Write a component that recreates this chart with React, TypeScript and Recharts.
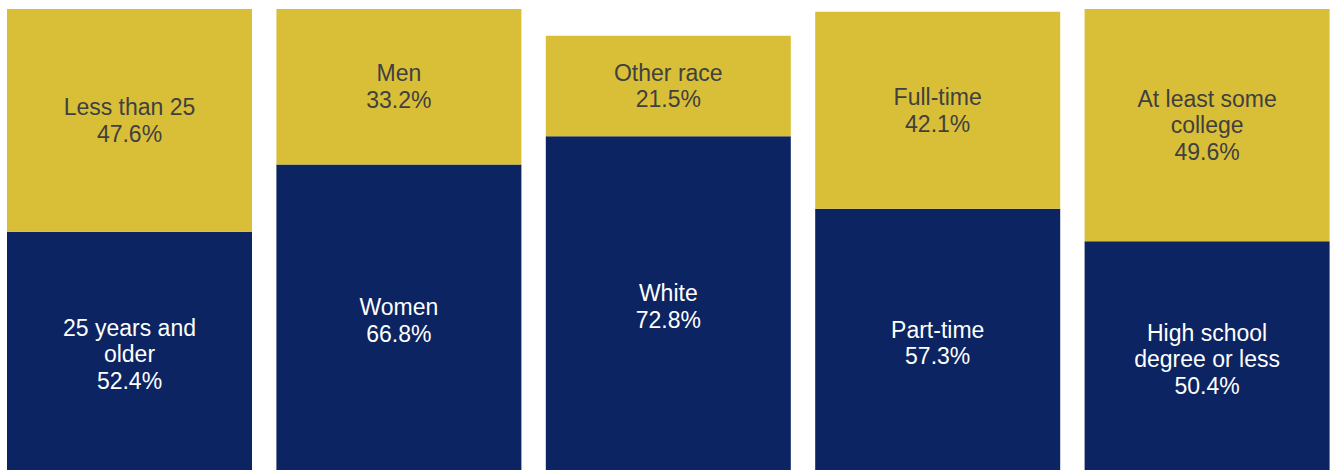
import { BarChart, Bar, XAxis, YAxis, LabelList } from "recharts";

const categories = ["Age", "Gender", "Race", "Enrollment", "Education"];
const bottomValues = [52.4, 66.8, 72.8, 57.3, 50.4];
const topValues = [47.6, 33.2, 21.5, 42.1, 49.6];
const bottomLabels = [
  ["25 years and", "older"],
  ["Women"],
  ["White"],
  ["Part-time"],
  ["High school", "degree or less"],
];
const topLabels = [
  ["Less than 25"],
  ["Men"],
  ["Other race"],
  ["Full-time"],
  ["At least some", "college"],
];

const data = categories.map((c, i) => ({
  name: c,
  bottom: bottomValues[i],
  top: topValues[i],
}));

const NAVY = "#0C2461";
const GOLD = "#D9BF37";
const FONT = 23;
const LINE = 26.5;

function makeLabel(labels: string[][], values: number[], color: string) {
  return (props: any) => {
    const { x, y, width, height, index } = props;
    const lines = [...labels[index], `${values[index].toFixed(1)}%`];
    const cx = Number(x) + Number(width) / 2;
    const cy = Number(y) + Number(height) / 2;
    const n = lines.length;
    return (
      <text
        textAnchor="middle"
        fill={color}
        fontSize={FONT}
        fontFamily="'Liberation Sans', Arial, sans-serif"
      >
        {lines.map((l, i) => (
          <tspan key={i} x={cx} y={cy + (i - (n - 1) / 2) * LINE + FONT * 0.35}>
            {l}
          </tspan>
        ))}
      </text>
    );
  };
}

export default function App() {
  return (
    <div
      style={{
        position: "absolute",
        left: 0,
        top: 0,
        width: 1330,
        height: 470,
        overflow: "hidden",
        background: "#fff",
      }}
    >
      <div style={{ marginLeft: -5 }}>
        <BarChart
          width={1347}
          height={477}
          data={data}
          margin={{ top: 9, right: 0, bottom: 0, left: 0 }}
          barSize={245}
        >
          <XAxis dataKey="name" hide />
          <YAxis hide domain={[0, 100]} />
          <Bar dataKey="bottom" stackId="a" fill={NAVY} isAnimationActive={false}>
            <LabelList dataKey="bottom" content={makeLabel(bottomLabels, bottomValues, "#FFFFFF")} />
          </Bar>
          <Bar dataKey="top" stackId="a" fill={GOLD} isAnimationActive={false}>
            <LabelList dataKey="top" content={makeLabel(topLabels, topValues, "#404040")} />
          </Bar>
        </BarChart>
      </div>
    </div>
  );
}
